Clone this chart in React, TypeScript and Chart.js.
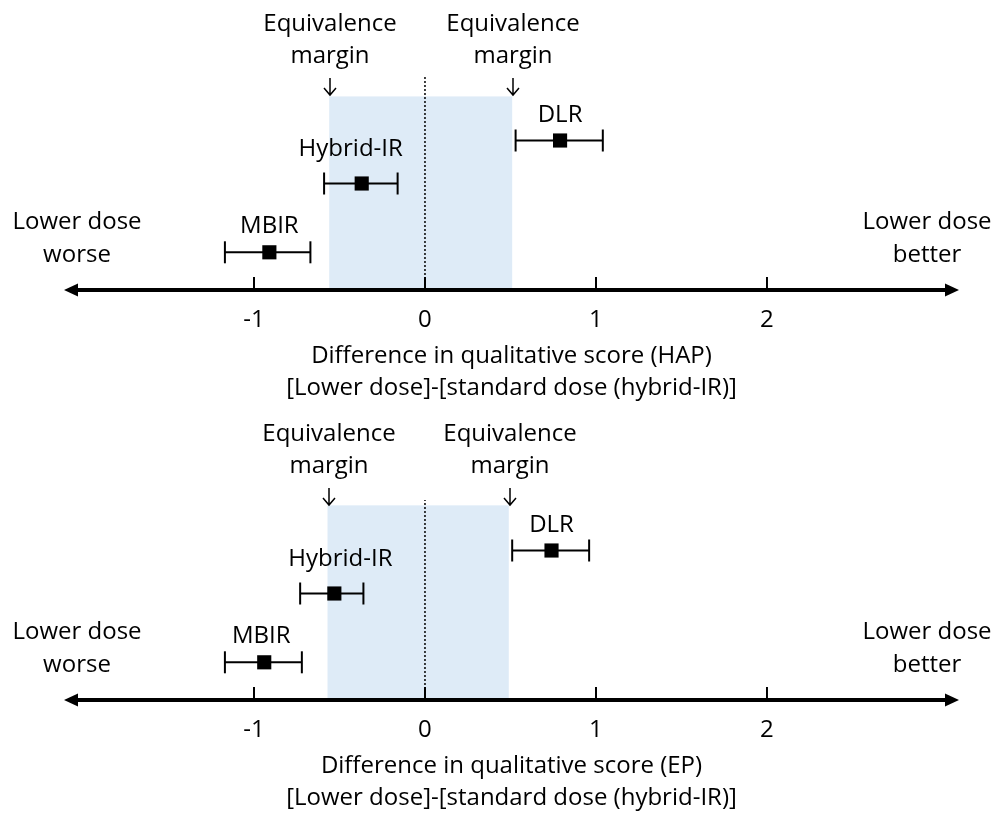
import React, { useEffect, useRef } from 'react';
import { Chart, registerables } from 'chart.js';

Chart.register(...registerables);

// ---------- data ----------
const methods = ['MBIR', 'Hybrid-IR', 'DLR'];
const rowY = [1.8, 5.0, 7.0];
const xTicks = [-1, 0, 1, 2];

const hapEstimate = [-0.91, -0.37, 0.79];
const hapLower = [-1.17, -0.59, 0.53];
const hapUpper = [-0.67, -0.16, 1.04];
const hapMargin = [-0.56, 0.51];

const epEstimate = [-0.94, -0.53, 0.74];
const epLower = [-1.17, -0.73, 0.51];
const epUpper = [-0.72, -0.36, 0.96];
const epMargin = [-0.57, 0.49];

const hapTitle = 'Difference in qualitative score (HAP)';
const epTitle = 'Difference in qualitative score (EP)';
const subTitle = '[Lower dose]-[standard dose (hybrid-IR)]';
const marginLabel = ['Equivalence', 'margin'];
const leftLabel = ['Lower dose', 'worse'];
const rightLabel = ['Lower dose', 'better'];

// ---------- styling ----------
const FAMILY = '"Open Sans", "Noto Sans", sans-serif';
const FONT_SIZE = 24;
const SHADE = '#DEEBF7';
const X_MIN = -2.111;
const X_MAX = 3.123;

const decorPlugin = {
  id: 'panelDecor',
  beforeDatasetsDraw(chart: any, _args: any, opts: any) {
    const { ctx, scales } = chart;
    const x = scales.x, y = scales.y;
    const x0 = x.getPixelForValue(opts.margin[0]);
    const x1 = x.getPixelForValue(opts.margin[1]);
    const yt = y.getPixelForValue(opts.shadeTop);
    const yb = y.getPixelForValue(0);
    ctx.save();
    ctx.fillStyle = SHADE;
    ctx.fillRect(x0, yt, x1 - x0, yb - yt);
    ctx.restore();
  },
  afterDatasetsDraw(chart: any, _args: any, opts: any) {
    const { ctx, chartArea, scales } = chart;
    const x = scales.x, y = scales.y;
    const yb = y.getPixelForValue(0) - 1;
    const L = chartArea.left, R = chartArea.right;
    const headLen = 14, headHalf = 6.5;
    ctx.save();
    ctx.strokeStyle = '#000';
    ctx.fillStyle = '#000';
    // axis line
    ctx.lineWidth = 4;
    ctx.beginPath();
    ctx.moveTo(L + headLen - 1, yb);
    ctx.lineTo(R - headLen + 1, yb);
    ctx.stroke();
    // arrow heads
    ctx.beginPath();
    ctx.moveTo(L, yb);
    ctx.lineTo(L + headLen, yb - headHalf);
    ctx.lineTo(L + headLen, yb + headHalf);
    ctx.closePath();
    ctx.fill();
    ctx.beginPath();
    ctx.moveTo(R, yb);
    ctx.lineTo(R - headLen, yb - headHalf);
    ctx.lineTo(R - headLen, yb + headHalf);
    ctx.closePath();
    ctx.fill();
    // tick marks (upward)
    ctx.lineWidth = 2;
    x.ticks.forEach((t: any) => {
      const px = x.getPixelForValue(t.value);
      ctx.beginPath();
      ctx.moveTo(px, yb);
      ctx.lineTo(px, yb - 13);
      ctx.stroke();
    });
    // equivalence margin arrows + labels
    ctx.font = `${FONT_SIZE}px ${FAMILY}`;
    ctx.textAlign = 'center';
    ctx.textBaseline = 'alphabetic';
    const top = chartArea.top;
    opts.margin.forEach((m: number) => {
      const px = Math.round(x.getPixelForValue(m)) + 1;
      ctx.lineWidth = 1.5;
      ctx.beginPath();
      ctx.moveTo(px, top + 2);
      ctx.lineTo(px, top + 19);
      ctx.moveTo(px - 6, top + 12);
      ctx.lineTo(px, top + 19);
      ctx.lineTo(px + 6, top + 12);
      ctx.stroke();
      ctx.fillText(marginLabel[0], px, top - 45);
      ctx.fillText(marginLabel[1], px, top - 13);
    });
    // method labels
    const meta = chart.getDatasetMeta(0);
    meta.data.forEach((pt: any, i: number) => {
      ctx.fillText(methods[i], pt.x + opts.labelDx[i], pt.y - opts.labelDy[i]);
    });
    // side labels
    ctx.fillText(leftLabel[0], 77, yb - 61);
    ctx.fillText(leftLabel[1], 77, yb - 28);
    ctx.fillText(rightLabel[0], 927, yb - 61);
    ctx.fillText(rightLabel[1], 927, yb - 28);
    ctx.restore();
  },
};

type PanelProps = {
  est: number[];
  lo: number[];
  hi: number[];
  margin: number[];
  title: string;
  shadeTop: number;
  refTop: number;
  labelDx: number[];
};

function buildConfig(p: PanelProps): any {
  const datasets: any[] = [];
  datasets.push({
    label: 'estimate',
    data: p.est.map((v, i) => ({ x: v, y: rowY[i] })),
    showLine: false,
    pointStyle: 'rect',
    pointRadius: 10,
    pointBackgroundColor: '#000',
    pointBorderColor: '#000',
    pointBorderWidth: 0,
    order: 0,
  });
  p.est.forEach((_, i) => {
    datasets.push({
      label: methods[i] + ' CI',
      data: [
        { x: p.lo[i], y: rowY[i] },
        { x: p.hi[i], y: rowY[i] },
      ],
      showLine: true,
      borderColor: '#000',
      borderWidth: 2,
      pointStyle: 'line',
      pointRotation: 90,
      pointRadius: 11,
      pointBorderWidth: 2,
      pointBorderColor: '#000',
      order: 1,
    });
  });
  datasets.push({
    label: 'zero',
    data: [
      { x: 0, y: 0 },
      { x: 0, y: p.refTop },
    ],
    showLine: true,
    borderColor: '#000',
    borderWidth: 1.5,
    borderDash: [2, 2],
    pointRadius: 0,
    order: 2,
  });

  return {
    type: 'scatter',
    data: { datasets },
    plugins: [decorPlugin],
    options: {
      animation: false,
      responsive: false,
      maintainAspectRatio: false,
      events: [],
      layout: { padding: { top: 76, left: 64, right: 46, bottom: 0 } },
      plugins: {
        legend: { display: false },
        tooltip: { enabled: false },
        panelDecor: {
          margin: p.margin,
          shadeTop: p.shadeTop,
          labelDx: p.labelDx,
          labelDy: [19, 28, 19],
        },
      },
      scales: {
        x: {
          type: 'linear',
          min: X_MIN,
          max: X_MAX,
          afterBuildTicks: (s: any) => {
            s.ticks = xTicks.map((v) => ({ value: v }));
          },
          grid: { display: false, drawTicks: false },
          border: { display: false },
          ticks: {
            padding: 14.5,
            color: '#000',
            font: { family: FAMILY, size: FONT_SIZE },
            callback: (v: any) => String(v),
          },
          title: {
            display: true,
            text: [p.title, subTitle],
            color: '#000',
            font: { family: FAMILY, size: FONT_SIZE, lineHeight: 32 / FONT_SIZE },
            padding: { top: -9.1, bottom: 0.3 },
          },
        },
        y: { type: 'linear', min: 0, max: 10, display: false },
      },
    },
  };
}

function Panel(props: PanelProps & { top: number }) {
  const ref = useRef<HTMLCanvasElement>(null);
  useEffect(() => {
    if (!ref.current) return;
    const chart = new Chart(ref.current, buildConfig(props));
    return () => chart.destroy();
  }, []);
  return (
    <canvas
      ref={ref}
      width={1005}
      height={404}
      style={{ position: 'absolute', left: 0, top: props.top, width: 1005, height: 404 }}
    />
  );
}

export default function App() {
  return (
    <div
      style={{
        position: 'absolute',
        left: 0,
        top: 0,
        width: 1005,
        height: 814,
        overflow: 'hidden',
        background: '#fff',
      }}
    >
      <Panel
        top={0}
        est={hapEstimate}
        lo={hapLower}
        hi={hapUpper}
        margin={hapMargin}
        title={hapTitle}
        shadeTop={9.05}
        refTop={10}
        labelDx={[0, -11, 0]}
      />
      <Panel
        top={410}
        est={epEstimate}
        lo={epLower}
        hi={epUpper}
        margin={epMargin}
        title={epTitle}
        shadeTop={9.1}
        refTop={9.35}
        labelDx={[-3, 6, 0]}
      />
    </div>
  );
}
